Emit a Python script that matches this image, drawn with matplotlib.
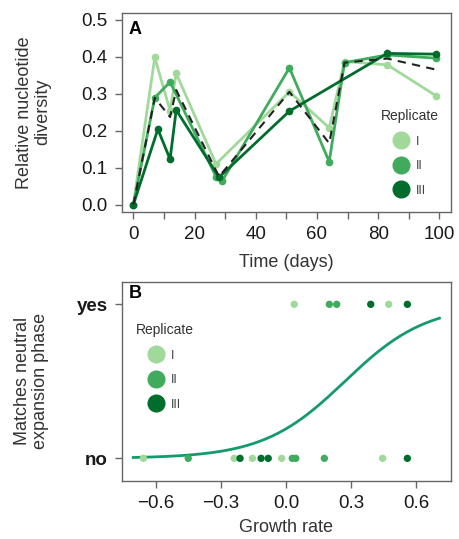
import numpy as np
import matplotlib
matplotlib.use('Agg')
import matplotlib.pyplot as plt
from matplotlib.lines import Line2D

plt.rcParams['font.family'] = ['Liberation Sans', 'DejaVu Sans']

# panel A: relative nucleotide diversity over time
days_I = [0, 7, 12, 14, 27, 51, 64, 69, 83, 99]
div_I = [0.0, 0.398, 0.254, 0.355, 0.110, 0.305, 0.208, 0.387, 0.378, 0.294]
days_II = [0, 7, 12, 27, 29, 51, 64, 69, 83, 99]
div_II = [0.0, 0.289, 0.332, 0.076, 0.064, 0.370, 0.116, 0.384, 0.405, 0.396]
days_III = [0, 8, 12, 14, 28, 51, 83, 99]
div_III = [0.0, 0.204, 0.123, 0.256, 0.074, 0.253, 0.409, 0.407]
days_mean = [0, 7, 12, 14, 28, 51, 64, 69, 83, 99]
div_mean = [0.0, 0.289, 0.237, 0.310, 0.076, 0.305, 0.166, 0.384, 0.395, 0.365]

# panel B: growth rate vs. neutral expansion phase (1 = yes, 0 = no)
gr_yes = [0.038, 0.200, 0.234, 0.391, 0.474, 0.560]
rep_yes = ['I', 'II', 'II', 'III', 'I', 'III']
gr_no = [-0.658, -0.451, -0.239, -0.212, -0.155, -0.115, -0.082, -0.020,
         0.029, 0.045, 0.177, 0.446, 0.560]
rep_no = ['I', 'II', 'I', 'III', 'I', 'III', 'III', 'I', 'II', 'II', 'II', 'I', 'III']
# logistic fit parameters
b0, b1 = -1.44, 5.3

reps = ['I', 'II', 'III']
colors = {'I': '#a1d99b', 'II': '#41ab5d', 'III': '#006d2c'}
frame_col = '#666666'
fs_tick = 13.5
fs_lab = 13

fig = plt.figure(figsize=(4.6, 5.39), dpi=100)
axA = fig.add_axes([0.2646, 0.6072, 0.7152, 0.3692])
axB = fig.add_axes([0.2646, 0.1082, 0.7152, 0.3692])


def style(ax):
    for s in ax.spines.values():
        s.set_color(frame_col)
        s.set_linewidth(1.0)
    ax.tick_params(which='both', direction='out', length=5, width=1, pad=5,
                   color=frame_col, labelsize=fs_tick, labelcolor='#1a1a1a')


# ---- A ----
series = [(days_I, div_I, 'I'), (days_II, div_II, 'II'), (days_III, div_III, 'III')]
for d, v, r in series:
    axA.plot(d, v, '-o', color=colors[r], lw=2, ms=4.5, zorder=2)
axA.plot(days_mean, div_mean, '--', color='#222222', lw=1.5, dashes=(4, 3), zorder=3)
axA.set_xlim(-3.8, 103.7)
axA.set_ylim(-0.019, 0.519)
axA.set_xticks(np.arange(0, 101, 20))
axA.set_xticks(np.arange(10, 100, 20), minor=True)
axA.set_yticks(np.arange(0, 0.51, 0.1))
axA.set_yticklabels(['%.1f' % t for t in np.arange(0, 0.51, 0.1)])
style(axA)
axA.set_xlabel('Time (days)', fontsize=fs_lab, color='#333333', labelpad=8)
axA.set_ylabel('Relative nucleotide\ndiversity', fontsize=fs_lab, color='#333333',
               labelpad=22, linespacing=1.05)
axA.text(0.02, 0.96, 'A', transform=axA.transAxes, fontsize=13, fontweight='bold',
         va='top', ha='left')

handles = [Line2D([], [], ls='', marker='o', ms=12, color=colors[r]) for r in reps]
legA = axA.legend(handles, reps, title='Replicate', loc='upper left',
                  bbox_to_anchor=(0.76, 0.56), frameon=False, fontsize=9,
                  title_fontsize=10, labelspacing=1.0, handletextpad=0.6,
                  borderpad=0.2, handlelength=1.2)
for t in legA.get_texts():
    t.set_color('#444444')
legA.get_title().set_color('#333333')

# ---- B ----
xs = np.linspace(-0.705, 0.708, 200)
axB.plot(xs, 1 / (1 + np.exp(-(b0 + b1 * xs))), color='#159a6b', lw=2, zorder=1)
axB.scatter(gr_yes, np.ones(len(gr_yes)), c=[colors[r] for r in rep_yes], s=28,
            linewidths=0, zorder=2)
axB.scatter(gr_no, np.zeros(len(gr_no)), c=[colors[r] for r in rep_no], s=28,
            linewidths=0, zorder=2)
axB.set_xlim(-0.758, 0.760)
axB.set_ylim(-0.145, 1.147)
axB.set_xticks([-0.6, -0.3, 0.0, 0.3, 0.6])
axB.set_xticklabels(['\u22120.6', '\u22120.3', '0.0', '0.3', '0.6'])
axB.set_yticks([0, 1])
axB.set_yticklabels(['no', 'yes'], fontweight='bold')
style(axB)
axB.set_xlabel('Growth rate', fontsize=fs_lab, color='#333333', labelpad=5)
axB.set_ylabel('Matches neutral\nexpansion phase', fontsize=fs_lab, color='#333333',
               labelpad=20, linespacing=1.05)
axB.text(0.02, 0.985, 'B', transform=axB.transAxes, fontsize=13, fontweight='bold',
         va='top', ha='left')

legB = axB.legend(handles, reps, title='Replicate', loc='upper left',
                  bbox_to_anchor=(0.015, 0.835), frameon=False, fontsize=9,
                  title_fontsize=10, labelspacing=1.0, handletextpad=0.6,
                  borderpad=0.2, handlelength=1.2)
for t in legB.get_texts():
    t.set_color('#444444')
legB.get_title().set_color('#333333')

fig.savefig('out.png', dpi=100)
